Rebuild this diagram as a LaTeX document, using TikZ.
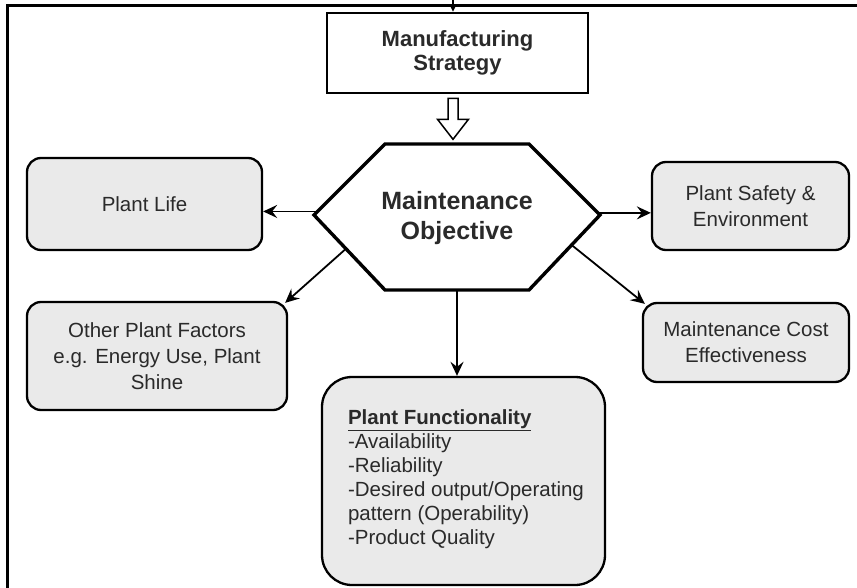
\documentclass[tikz,border=0pt]{standalone}
\usepackage{fontspec}
\setmainfont{Liberation Sans}
\usetikzlibrary{arrows.meta,calc}
\definecolor{boxgray}{HTML}{EAEAEA}
\definecolor{inkgray}{HTML}{2A2A2A}
\begin{document}
\begin{tikzpicture}[x=1pt,y=-1pt,
  frame/.style={line width=3pt},
  stratbox/.style={draw, line width=2.6pt, fill=white, minimum width=261pt,
    minimum height=80pt, inner sep=0pt, align=center, text=inkgray,
    font=\fontsize{22}{24}\selectfont\bfseries},
  factor/.style={draw, line width=2.3pt, fill=boxgray, rounded corners=14pt,
    inner sep=0pt, align=center, text=inkgray,
    font=\fontsize{20.5}{26}\selectfont},
  link/.style={line width=1.8pt, -{Stealth[length=14pt,width=13pt,inset=5pt]}},
  hexline/.style={line width=3.4pt, line join=miter}
]
\useasboundingbox (0,0) rectangle (857,588);

% incoming link from above the frame
\coordinate (src) at (453,0);

% strategy box
\node[stratbox] (ms) at (457.5,53) {Manufacturing\\Strategy};
\draw[line width=1.5pt, -{Stealth[length=7pt,width=7pt]}] (src) -- (src |- ms.north);

% outer frame (left and top only)
\draw[frame] (7,588) -- (7,6) -- (857,6);

% outcome boxes
\node[factor, minimum width=235pt, minimum height=92pt] (pl) at (144.5,204) {Plant Life};
\node[factor, minimum width=197pt, minimum height=88pt] (ps) at (750.5,206) {Plant Safety \&\\Environment};
\node[factor, minimum width=260pt, minimum height=108pt] (opf) at (157,356)
  {Other Plant Factors\\e.g. Energy Use, Plant\\Shine};
\node[factor, minimum width=206pt, minimum height=79pt] (mc) at (746,342.5)
  {Maintenance Cost\\Effectiveness};
\node[factor, rounded corners=30pt, minimum width=283pt, minimum height=208pt] (pf) at (463.5,481) {};
\node[anchor=west, align=left, inner sep=0pt, text=inkgray,
  font=\fontsize{20.5}{24}\selectfont] (pft) at ($(pf.west)+(27,-2)$)
  {\underline{\textbf{Plant Functionality}}\\-Availability\\-Reliability\\
   -Desired output/Operating\\pattern (Operability)\\-Product Quality};

% central hexagon
\coordinate (hTL) at (385,144);
\coordinate (hTR) at (529,144);
\coordinate (hR)  at (600,215);
\coordinate (hBR) at (529,290);
\coordinate (hBL) at (385,290);
\coordinate (hL)  at (314,215);
\coordinate (hB)  at ($(hBL)!0.5!(hBR)$);
\draw[hexline, fill=white] (hTL) -- (hTR) -- (hR) -- (hBR) -- (hBL) -- (hL) -- cycle;
\node[align=center, text=inkgray, font=\fontsize{25}{30}\selectfont\bfseries] (mo) at (457,218)
  {Maintenance\\Objective};

% hollow block arrow from strategy to objective
\coordinate (ha) at (ms.south -| src);
\draw[line width=1.5pt, fill=white, line join=miter]
  ($(ha)+(-5,4)$) -- ++(0,21) -- ++(-10.5,0) -- ($(ha)+(0,45)$)
  -- ($(ha)+(15.5,25)$) -- ++(-10.5,0) -- ++(0,-21) -- cycle;

% links from the objective to each outcome
\coordinate (aL) at ($(hL)!0.05!(hTL)$);
\coordinate (aR) at ($(hR)!0.03!(hTR)$);
\draw[link] (aL) -- (aL -| pl.east);
\draw[link] (aR) -- (aR -| ps.west);
\draw[link] ($(hL)!0.45!(hBL)$) -- ($(opf.north east)+(-3,2)$);
\draw[link] ($(hR)!0.4!(hBR)$) -- ($(mc.north west)+(3,2)$);
\draw[link, line width=2.4pt] (hB) -- (hB |- pf.north);
\end{tikzpicture}
\end{document}
